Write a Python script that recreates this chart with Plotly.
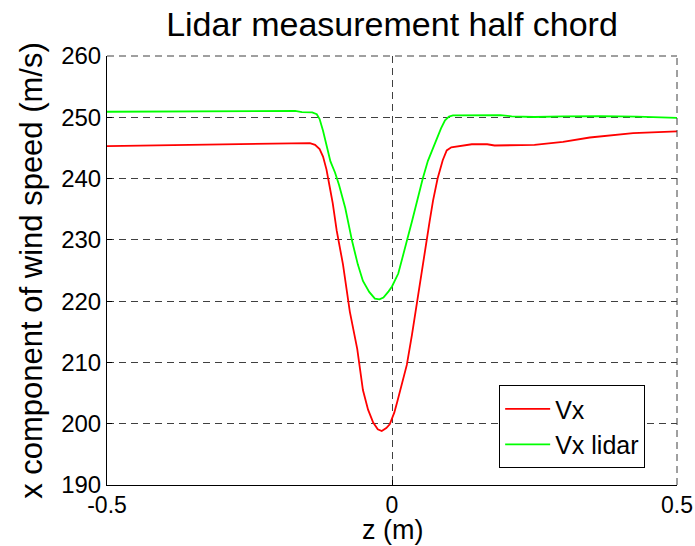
import plotly.graph_objects as go

# Streamwise velocity across the half-chord plane
z_vx = [-0.5, -0.42, -0.33, -0.25, -0.16, -0.144, -0.135, -0.127, -0.121, -0.115,
        -0.109, -0.104, -0.097, -0.086, -0.074, -0.061, -0.051, -0.042, -0.033,
        -0.025, -0.018, -0.010, -0.004, 0.004, 0.009, 0.018, 0.026, 0.035, 0.044,
        0.051, 0.058, 0.066, 0.072, 0.080, 0.089, 0.096, 0.104, 0.12, 0.14, 0.167,
        0.18, 0.25, 0.30, 0.347, 0.423, 0.5]
vx = [245.3, 245.4, 245.5, 245.6, 245.8, 245.8, 245.5, 244.8, 243.6, 241.5,
      238.5, 236.0, 231.5, 226.0, 218.3, 212.2, 205.5, 202.3, 200.2,
      199.1, 198.8, 199.3, 199.9, 201.8, 203.5, 206.5, 209.6, 214.5, 220.0,
      224.5, 228.2, 233.0, 236.4, 240.0, 243.0, 244.6, 245.1, 245.3, 245.6, 245.6,
      245.4, 245.5, 246.0, 246.7, 247.4, 247.7]

z_lidar = [-0.5, -0.4, -0.33, -0.17, -0.158, -0.14, -0.132, -0.127, -0.121, -0.115,
           -0.108, -0.100, -0.093, -0.082, -0.070, -0.060, -0.051, -0.040, -0.030,
           -0.022, -0.015, -0.006, 0.000, 0.011, 0.020, 0.026, 0.035, 0.044, 0.054,
           0.063, 0.072, 0.079, 0.086, 0.093, 0.100, 0.107, 0.19, 0.21, 0.25, 0.30,
           0.365, 0.43, 0.5]
vx_lidar = [250.9, 250.95, 251.05, 251.05, 250.85, 250.8, 250.5, 249.7, 247.8, 245.5,
            242.8, 241.0, 239.0, 235.2, 229.8, 226.0, 223.3, 221.5, 220.4,
            220.3, 220.6, 221.6, 222.4, 224.5, 227.5, 229.8, 233.0, 236.4, 240.0,
            242.9, 245.0, 246.4, 248.2, 249.5, 250.1, 250.3, 250.35, 250.15, 250.05, 250.15,
            250.2, 250.1, 249.9]

x_ticks = [-0.5, 0, 0.5]
x_tick_text = ["-0.5", "0", "0.5"]
y_ticks = [190, 200, 210, 220, 230, 240, 250, 260]

FONT = "Liberation Sans, Arial, sans-serif"
GRID = dict(showgrid=True, gridcolor="#404040", gridwidth=1, griddash="7px,5px")

fig = go.Figure()
fig.add_trace(go.Scatter(x=z_vx, y=vx, mode="lines", name="Vx",
                         line=dict(color="#ff0000", width=1.8)))
fig.add_trace(go.Scatter(x=z_lidar, y=vx_lidar, mode="lines", name="Vx lidar",
                         line=dict(color="#00ff00", width=1.8)))

fig.update_layout(
    width=695, height=546,
    margin=dict(l=107, r=18, t=56, b=61),
    paper_bgcolor="white", plot_bgcolor="white",
    font=dict(family=FONT, color="black", size=24),
    title=dict(text="Lidar measurement half chord", x=0.5, xanchor="center",
               xref="paper", y=1 - 24 / 546, yanchor="middle", yref="container",
               font=dict(size=34, family=FONT)),
    xaxis=dict(range=[-0.5, 0.5], tickvals=x_ticks, ticktext=x_tick_text,
               ticks="inside", ticklen=5, tickcolor="black",
               showline=True, linecolor="black", linewidth=1, mirror=False,
               zeroline=False, tickfont=dict(size=23), automargin=False,
               ticklabelstandoff=-1,
               **GRID),
    yaxis=dict(range=[190, 260], tickvals=y_ticks,
               ticks="inside", ticklen=5, tickcolor="black",
               showline=True, linecolor="black", linewidth=1, mirror=False,
               zeroline=False, tickfont=dict(size=24), automargin=False,
               title=dict(text="x component of wind speed (m/s)",
                          font=dict(size=31), standoff=9),
               **GRID),
    legend=dict(x=0.688, y=0.233, xanchor="left", yanchor="top",
                bgcolor="white", bordercolor="black", borderwidth=1,
                font=dict(size=25, family=FONT), itemwidth=45),
    showlegend=True,
)

# x-axis label placed under the tick labels
fig.add_annotation(text="z (m)", xref="paper", yref="paper", x=0.5, y=-0.1445,
                   xanchor="center", yanchor="bottom", showarrow=False,
                   font=dict(size=27, family=FONT, color="black"))

# dashed frame on the top and right edges
fig.add_shape(type="line", xref="paper", yref="paper", x0=0, x1=1, y0=1, y1=1,
              line=dict(color="#404040", width=1, dash="7px,5px"), layer="above")
fig.add_shape(type="line", xref="paper", yref="paper", x0=1, x1=1, y0=0, y1=1,
              line=dict(color="#404040", width=1, dash="7px,5px"), layer="above")

fig.write_html("out.html")
